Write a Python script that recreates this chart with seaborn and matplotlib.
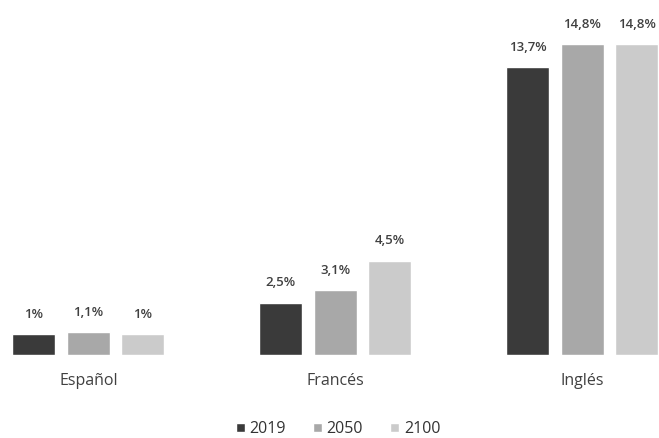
import matplotlib
matplotlib.use("Agg")
import matplotlib.pyplot as plt
import seaborn as sns
import pandas as pd
from matplotlib.patches import Patch

categories = ["Español", "Francés", "Inglés"]
years = ["2019", "2050", "2100"]
v2019 = [1.0, 2.5, 13.7]
v2050 = [1.1, 3.1, 14.8]
v2100 = [1.0, 4.5, 14.8]
labels2019 = ["1%", "2,5%", "13,7%"]
labels2050 = ["1,1%", "3,1%", "14,8%"]
labels2100 = ["1%", "4,5%", "14,8%"]
colors = ["#3a3a3a", "#a8a8a8", "#cbcbcb"]

rows = []
for yr, vals in zip(years, [v2019, v2050, v2100]):
    for c, v in zip(categories, vals):
        rows.append({"cat": c, "year": yr, "val": v})
df = pd.DataFrame(rows)

sns.set_theme(style="white")
plt.rcParams["font.family"] = ["Open Sans", "DejaVu Sans"]

fig = plt.figure(figsize=(6.59, 4.38), dpi=100)
ax = fig.add_axes([0, 83/438, 1, (355-40)/438])
sns.barplot(data=df, x="cat", y="val", hue="year", palette=colors,
            width=0.662, gap=0.21, ax=ax, legend=False, saturation=1)
ax.set_xlim(-0.358, 2.310)
ax.set_ylim(0, 15)
ax.set_xlabel("")
ax.set_ylabel("")
ax.set_yticks([])
for s in ax.spines.values():
    s.set_visible(False)
ax.tick_params(axis="x", length=0, pad=13, labelsize=11.5, labelcolor="#404040")

for cont, labs in zip(ax.containers, [labels2019, labels2050, labels2100]):
    ax.bar_label(cont, labels=labs, padding=9.5, fontsize=9.5, color="#404040",
                 fontweight="semibold")

handles = [Patch(facecolor=c, label=y) for c, y in zip(colors, years)]
fig.legend(handles=handles, loc="center", bbox_to_anchor=(338/659, 1 - 429/438),
           ncol=3, frameon=False, fontsize=11.5, handlelength=0.55, handleheight=0.55,
           handletextpad=0.3, columnspacing=1.7, labelcolor="#333333",
           borderpad=0.1)

fig.savefig("out.png", dpi=100)
